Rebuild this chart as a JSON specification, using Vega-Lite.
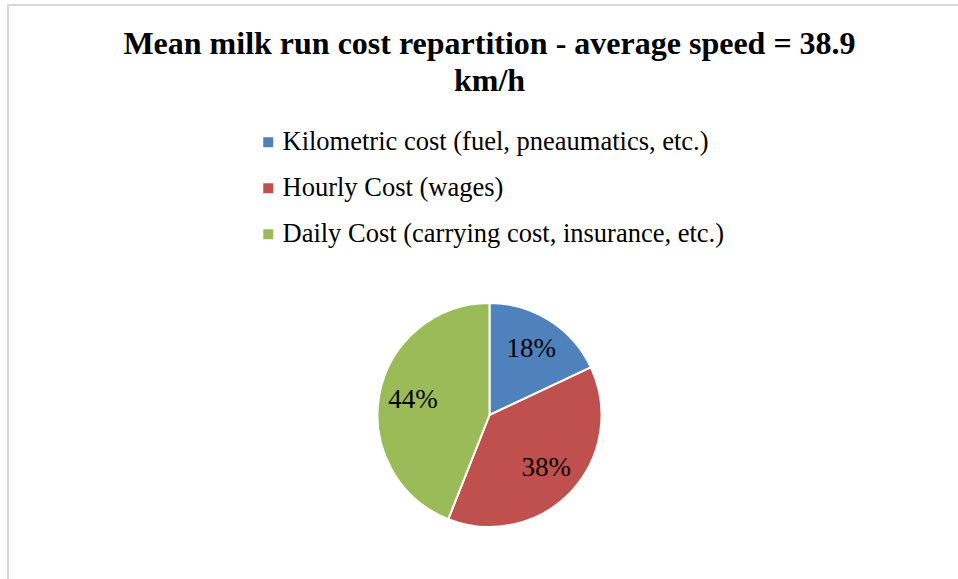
{
  "$schema": "https://vega.github.io/schema/vega-lite/v6.json",
  "width": 963,
  "height": 820,
  "autosize": {"type": "none"},
  "padding": {"left": 8, "top": 5, "right": 0, "bottom": 0},
  "background": "white",
  "view": {"stroke": "#d9d9d9", "strokeWidth": 2},
  "title": {
    "text": ["Mean milk run cost repartition - average speed = 38.9", "km/h"],
    "font": "Liberation Serif",
    "fontSize": 32,
    "fontWeight": "bold",
    "color": "black",
    "lineHeight": 37,
    "anchor": "middle",
    "frame": "group",
    "offset": -93
  },
  "data": {
    "values": [
      {"category": "Kilometric cost (fuel, pneaumatics, etc.)", "share": 18, "label": "18%", "order": 1},
      {"category": "Hourly Cost (wages)", "share": 38, "label": "38%", "order": 2},
      {"category": "Daily Cost (carrying cost, insurance, etc.)", "share": 44, "label": "44%", "order": 3}
    ]
  },
  "encoding": {
    "theta": {"field": "share", "type": "quantitative", "stack": true},
    "order": {"field": "order", "type": "quantitative"}
  },
  "layer": [
    {
      "mark": {"type": "arc", "outerRadius": 112, "stroke": "white", "strokeWidth": 2},
      "encoding": {
        "color": {
          "field": "category",
          "type": "nominal",
          "sort": ["Kilometric cost (fuel, pneaumatics, etc.)", "Hourly Cost (wages)", "Daily Cost (carrying cost, insurance, etc.)"],
          "scale": {
            "domain": ["Kilometric cost (fuel, pneaumatics, etc.)", "Hourly Cost (wages)", "Daily Cost (carrying cost, insurance, etc.)"],
            "range": ["#4F81BD", "#C0504D", "#9BBB59"]
          },
          "legend": {
            "orient": "none",
            "legendX": 247,
            "legendY": 124,
            "title": null,
            "direction": "vertical",
            "symbolType": "square",
            "symbolSize": 100,
            "symbolStrokeWidth": 0,
            "labelFont": "Liberation Serif",
            "labelFontSize": 26.5,
            "labelColor": "black",
            "labelOffset": 1,
            "labelLimit": 700,
            "rowPadding": 19,
            "padding": 0
          }
        }
      }
    },
    {
      "mark": {"type": "text", "radius": 78, "font": "Liberation Serif", "fontSize": 27, "color": "black", "align": "center", "baseline": "middle"},
      "encoding": {
        "text": {"field": "label", "type": "nominal"}
      }
    }
  ],
  "config": {
    "view": {"stroke": "#d9d9d9", "strokeWidth": 2},
    "style": {"cell": {"stroke": "#d9d9d9", "strokeWidth": 2}}
  }
}
